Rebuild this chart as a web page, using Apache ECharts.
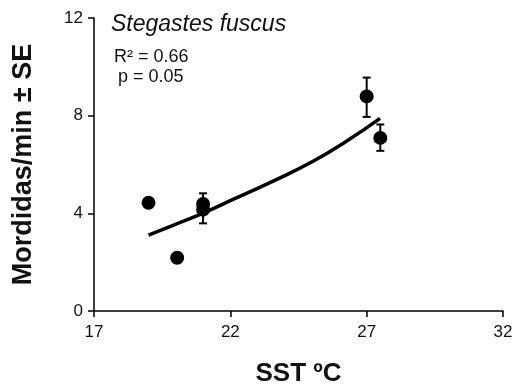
<!DOCTYPE html>
<html>
<head>
<meta charset="utf-8">
<script src="https://cdn.jsdelivr.net/npm/echarts@6/dist/echarts.min.js"></script>
<style>
  html, body { margin: 0; padding: 0; background: #fff; }
  #chart { width: 513px; height: 387px; }
</style>
</head>
<body>
<div id="chart"></div>
<script>
// SST (ºC) and bite rate
const sst = [19.0, 20.05, 21.0, 21.0, 27.0, 27.5];
const bites = [4.43, 2.18, 4.38, 4.15, 8.79, 7.09];
const seLow = [4.32, 2.02, 4.38, 3.59, 7.95, 6.56];
const seHigh = [4.54, 2.34, 4.38, 4.82, 9.56, 7.64];
// fitted curve
const fitX = [19.0, 19.92, 20.96, 22.12, 23.59, 25.05, 26.27, 27.49];
const fitY = [3.11, 3.52, 3.99, 4.58, 5.33, 6.14, 6.96, 7.89];
const xTicks = [17, 22, 27, 32];
const yTicks = [0, 4, 8, 12];

const font = '"Liberation Sans", Arial, sans-serif';

var myChart = echarts.init(document.getElementById('chart'));

var points = sst.map(function (x, i) { return [x, bites[i]]; });
var errs = sst.map(function (x, i) { return [x, seLow[i], seHigh[i]]; });
var fit = fitX.map(function (x, i) { return [x, fitY[i]]; });

myChart.setOption({
  backgroundColor: '#ffffff',
  animation: false,
  grid: { left: 94, right: 10, top: 18, bottom: 76, outerBoundsMode: 'none' },
  xAxis: {
    type: 'value',
    min: xTicks[0], max: xTicks[xTicks.length - 1], interval: 5,
    name: 'SST ºC',
    nameLocation: 'middle',
    nameGap: 50,
    nameTextStyle: { fontFamily: font, fontWeight: 'bold', fontSize: 26, color: '#111' },
    axisLine: { lineStyle: { color: '#000', width: 1.5 } },
    axisTick: { inside: false, length: 6, lineStyle: { color: '#000', width: 1.5 } },
    axisLabel: { fontFamily: font, fontSize: 17, color: '#111', margin: 13 },
    splitLine: { show: false }
  },
  yAxis: {
    type: 'value',
    min: yTicks[0], max: yTicks[yTicks.length - 1], interval: 4,
    name: 'Mordidas/min ± SE',
    nameLocation: 'middle',
    nameGap: 57,
    nameTextStyle: { fontFamily: font, fontWeight: 'bold', fontSize: 27, color: '#111' },
    axisLine: { show: true, lineStyle: { color: '#000', width: 1.5 } },
    axisTick: { show: true, length: 6, lineStyle: { color: '#000', width: 1.5 } },
    axisLabel: { fontFamily: font, fontSize: 17, color: '#111', margin: 11 },
    splitLine: { show: false }
  },
  graphic: [
    { type: 'text', left: 111, top: 13, style: { text: 'Stegastes fuscus', font: 'italic 23px ' + font, fill: '#111' } },
    { type: 'text', left: 114, top: 48, style: { text: 'R² = 0.66', font: '18px ' + font, fill: '#111' } },
    { type: 'text', left: 118, top: 68, style: { text: 'p = 0.05', font: '18px ' + font, fill: '#111' } }
  ],
  series: [
    {
      type: 'line',
      data: fit,
      smooth: true,
      symbol: 'none',
      lineStyle: { color: '#000', width: 3.5 },
      z: 2
    },
    {
      type: 'custom',
      data: errs,
      renderItem: function (params, api) {
        var x = api.value(0);
        var lo = api.coord([x, api.value(1)]);
        var hi = api.coord([x, api.value(2)]);
        if (Math.abs(lo[1] - hi[1]) < 1) return;
        var w = 4;
        var st = { stroke: '#000', lineWidth: 2 };
        return {
          type: 'group',
          children: [
            { type: 'line', shape: { x1: lo[0], y1: lo[1], x2: hi[0], y2: hi[1] }, style: st },
            { type: 'line', shape: { x1: lo[0] - w, y1: lo[1], x2: lo[0] + w, y2: lo[1] }, style: st },
            { type: 'line', shape: { x1: hi[0] - w, y1: hi[1], x2: hi[0] + w, y2: hi[1] }, style: st }
          ]
        };
      },
      z: 3
    },
    {
      type: 'scatter',
      data: points,
      symbol: 'circle',
      symbolSize: 14,
      itemStyle: { color: '#000', opacity: 1 },
      z: 4
    }
  ]
});

window.addEventListener('resize', function () {
  myChart.resize();
});
</script>
</body>
</html>
